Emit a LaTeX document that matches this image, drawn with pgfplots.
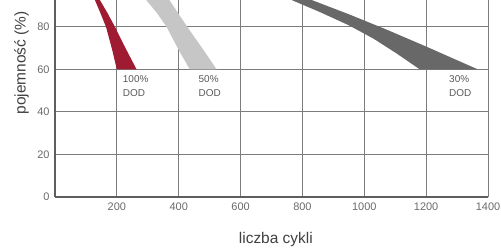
\documentclass[border=0pt]{standalone}
\usepackage{fontspec}
\setmainfont{Liberation Sans}
\usepackage{pgfplots}
\pgfplotsset{compat=1.18}
\definecolor{dodred}{HTML}{9E1B32}
\definecolor{dodlight}{HTML}{C6C6C6}
\definecolor{doddark}{HTML}{686868}
\definecolor{gridc}{HTML}{7C7C7C}
\definecolor{axc}{HTML}{5E5E5E}
\definecolor{tickc}{HTML}{6A6A6A}
\begin{document}
\begin{tikzpicture}
\begin{axis}[
  scale only axis,
  width=433bp, height=197bp,
  xmin=0, xmax=1400, ymin=0, ymax=92.7,
  xtick={200,400,...,1400},
  ytick={0,20,40,60,80},
  axis x line*=bottom, axis y line*=left,
  axis line style={-, color=axc, line width=1.3bp},
  major tick length=0pt,
  grid=major,
  major grid style={color=gridc, line width=1bp},
  /pgf/number format/assume math mode=true,
  /pgf/number format/1000 sep={},
  tick label style={font=\fontsize{11}{12}\selectfont, color=tickc},
  xticklabel style={yshift=-2bp},
  yticklabel style={xshift=-2bp},
  xlabel={liczba cykli},
  ylabel={pojemność (\%)},
  label style={font=\fontsize{15.5}{18}\selectfont, color=black!75},
  xlabel style={at={(axis description cs:0.51,0)}, anchor=north, yshift=-32bp},
  ylabel style={at={(axis description cs:-0.0774,0.68)}, anchor=center},
]
\addplot[draw=none, fill=dodred] coordinates {
 (117,97) (129,92.7) (147,86.5) (165,80) (185,69.2) (200,60)
 (264,60) (231,69.2) (194,80) (170,86.5) (145,92.7) (128,97)} --cycle;
\addplot[draw=none, fill=dodlight] coordinates {
 (273,97) (295,92.7) (330,86.5) (361,80) (400,69.2) (436,60)
 (523,60) (480,69.2) (428,80) (398,86.5) (370,92.7) (350,97)} --cycle;
\addplot[draw=none, fill=doddark] coordinates {
 (696,97) (765,92.7) (860,86.8) (950,80.8) (1030,74.5) (1105,67.5) (1180,60)
 (1368,60) (1200,70.8) (1070,78.9) (950,86.0) (830,92.7) (746,97)} --cycle;
\node[anchor=north west, inner sep=0pt, align=left, font=\fontsize{10}{14.5}\selectfont, text=black!65] at (axis cs:219,57.4) {100\%\\DOD};
\node[anchor=north west, inner sep=0pt, align=left, font=\fontsize{10}{14.5}\selectfont, text=black!65] at (axis cs:464,57.4) {50\%\\DOD};
\node[anchor=north west, inner sep=0pt, align=left, font=\fontsize{10}{14.5}\selectfont, text=black!65] at (axis cs:1274,57.4) {30\%\\DOD};
\end{axis}
\pgfresetboundingbox
\path (-55bp,-55bp) rectangle (446bp,197bp);
\end{tikzpicture}
\end{document}
